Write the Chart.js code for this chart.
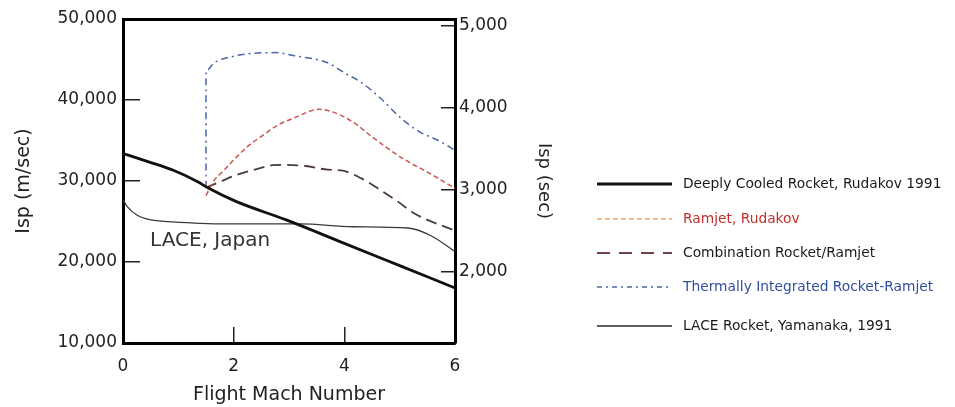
<!DOCTYPE html>
<html>
<head>
<meta charset="utf-8">
<title>Isp vs Flight Mach Number</title>
<script src="https://cdn.jsdelivr.net/npm/chart.js@4.4.1/dist/chart.umd.min.js"></script>
<style>
  html, body { margin: 0; padding: 0; background: #fff; }
  #ispChart { display: block; }
</style>
</head>
<body>
<canvas id="ispChart" width="955" height="407"></canvas>
<script>
// Isp (m/sec) against flight Mach number, as [mach, isp] pairs
const deeplyCooled = [[0, 33400], [0.45, 32400], [0.9, 31350], [1.35, 29900], [1.55, 29100], [2.05, 27450],
  [2.95, 25200], [4, 22300], [5, 19550], [6, 16800]];
const ramjet = [[1.5, 28200], [1.65, 30100], [1.8, 31150], [2, 32600], [2.25, 34250], [2.5, 35500], [2.8, 36900],
  [3.1, 37800], [3.55, 38850], [3.8, 38500], [4.15, 37300], [4.5, 35450], [4.75, 34200], [5.1, 32600],
  [5.5, 31100], [5.9, 29500], [6, 29100]];
const combination = [[1.5, 29200], [1.75, 29900], [2.05, 30750], [2.35, 31350], [2.7, 31950], [2.9, 32000],
  [3.3, 31850], [3.7, 31400], [3.95, 31300], [4.3, 30350], [4.65, 28900], [5, 27300], [5.25, 26050], [6, 23850]];
const thermallyIntegrated = [[1.5, 29200], [1.5, 43600], [1.65, 44600], [2, 45400], [2.25, 45700], [2.75, 45850],
  [3.1, 45450], [3.5, 45000], [3.7, 44600], [4, 43350], [4.3, 42200], [4.65, 40250], [5, 37900], [5.35, 36100],
  [5.7, 35000], [6, 33800]];
const laceRocket = [[0, 27700], [0.07, 26900], [0.25, 25800], [0.5, 25200], [0.7, 25050], [1.15, 24850],
  [1.75, 24700], [3.2, 24700], [4.15, 24350], [5.15, 24200], [5.55, 23300], [6, 21300]];

const seriesLabels = [
  'Deeply Cooled Rocket, Rudakov 1991',
  'Ramjet, Rudakov',
  'Combination Rocket/Ramjet',
  'Thermally Integrated Rocket-Ramjet',
  'LACE Rocket, Yamanaka, 1991'
];

const machTicks = [0, 2, 4, 6];
const ispMsTicks = [10000, 20000, 30000, 40000, 50000];
const ispSecTicks = [2000, 3000, 4000, 5000];
const ispSecRange = [1134, 5085];

const laceNote = { text: 'LACE, Japan', mach: 0.49, isp: 22600 };

const FONT = '"DejaVu Sans", "Liberation Sans", Arial, sans-serif';

const styles = [
  { color: '#111111', dash: [], width: 2.8, legendColor: '#111111', legendDash: [], legendWidth: 3.2, text: '#1a1a1a' },
  { color: '#c8564f', dash: [5, 3], width: 1.5, legendColor: '#eda65c', legendDash: [5, 3], legendWidth: 1.5, text: '#c0302c' },
  { color: '#4c3c3c', dash: [11, 6], width: 1.8, legendColor: '#6b4646', legendDash: [13, 9], legendWidth: 2, text: '#1a1a1a' },
  { color: '#4b64a6', dash: [7, 4, 2, 4], width: 1.5, legendColor: '#4b64a6', legendDash: [5, 4, 2, 4], legendWidth: 1.5, text: '#3150a0' },
  { color: '#3a3a3a', dash: [], width: 1.3, legendColor: '#2a2a2a', legendDash: [], legendWidth: 1.5, text: '#1a1a1a' }
];

const seriesData = [deeplyCooled, ramjet, combination, thermallyIntegrated, laceRocket];

const datasets = seriesData.map((pts, i) => ({
  label: seriesLabels[i],
  data: pts.map(p => ({ x: p[0], y: p[1] })),
  showLine: true,
  borderColor: styles[i].color,
  borderWidth: styles[i].width,
  borderDash: styles[i].dash,
  pointRadius: 0,
  tension: 0.3,
  cubicInterpolationMode: 'monotone',
  fill: false,
  yAxisID: 'y'
}));

// legend drawn to the right of the plot, rows are spaced like the printed key
const sideLegend = {
  id: 'sideLegend',
  afterDraw(chart, args, opts) {
    const ctx = chart.ctx;
    ctx.save();
    ctx.font = opts.font;
    ctx.textBaseline = 'middle';
    ctx.textAlign = 'left';
    chart.data.datasets.forEach((ds, i) => {
      const st = styles[i];
      const y = opts.rows[i];
      ctx.beginPath();
      ctx.setLineDash(st.legendDash);
      ctx.lineWidth = st.legendWidth;
      ctx.strokeStyle = st.legendColor;
      ctx.moveTo(opts.x, y);
      ctx.lineTo(opts.x + opts.lineLength, y);
      ctx.stroke();
      ctx.setLineDash([]);
      ctx.fillStyle = st.text;
      ctx.fillText(ds.label, opts.x + opts.lineLength + opts.gap, y);
    });
    ctx.restore();
  }
};

// text note placed in data coordinates
const noteLabel = {
  id: 'noteLabel',
  afterDatasetsDraw(chart, args, opts) {
    const ctx = chart.ctx;
    const px = chart.scales.x.getPixelForValue(laceNote.mach);
    const py = chart.scales.y.getPixelForValue(laceNote.isp);
    ctx.save();
    ctx.font = opts.font;
    ctx.fillStyle = opts.color;
    ctx.textBaseline = 'middle';
    ctx.textAlign = 'left';
    ctx.fillText(laceNote.text, px, py);
    ctx.restore();
  }
};

const fmt = v => Number(v).toLocaleString('en-US');

// fixed axis widths; drop the label overhang so the plot top/bottom come from layout padding only
const fixWidth = w => s => { s.width = w; s.paddingTop = 0; s.paddingBottom = 0; };

const chart = new Chart(document.getElementById('ispChart'), {
  type: 'scatter',
  data: { datasets },
  plugins: [sideLegend, noteLabel],
  options: {
    responsive: false,
    devicePixelRatio: 1,
    animation: false,
    layout: { padding: { left: 0, top: 19, right: 396, bottom: 0 } },
    scales: {
      x: {
        type: 'linear',
        position: 'bottom',
        min: 0,
        max: 6,
        afterBuildTicks: s => { s.ticks = machTicks.map(v => ({ value: v })); },
        afterFit: s => { s.height = 64; },
        border: { display: true, color: '#000', width: 3 },
        grid: { drawOnChartArea: false, drawTicks: true, tickLength: -16, color: '#222', lineWidth: 1.5 },
        ticks: { padding: 29, color: '#222', font: { family: FONT, size: 17 }, maxRotation: 0 },
        title: { display: true, text: 'Flight Mach Number', color: '#222', padding: { top: 0, bottom: 1 },
          font: { family: FONT, size: 19 } }
      },
      xTop: {
        type: 'linear',
        position: 'top',
        min: 0,
        max: 6,
        afterFit: s => { s.height = 0; },
        border: { display: true, color: '#000', width: 3 },
        grid: { display: false, drawTicks: false },
        ticks: { display: false }
      },
      y: {
        type: 'linear',
        position: 'left',
        min: 10000,
        max: 50000,
        afterBuildTicks: s => { s.ticks = ispMsTicks.map(v => ({ value: v })); },
        afterFit: fixWidth(123),
        border: { display: true, color: '#000', width: 3 },
        grid: { drawOnChartArea: false, drawTicks: true, tickLength: -17, color: '#222', lineWidth: 1.5 },
        ticks: { padding: 23, color: '#222', font: { family: FONT, size: 17 }, callback: fmt },
        title: { display: true, text: 'Isp (m/sec)', color: '#222', padding: { top: 13, bottom: 0 },
          font: { family: FONT, size: 19 } }
      },
      y2: {
        type: 'linear',
        position: 'right',
        min: ispSecRange[0],
        max: ispSecRange[1],
        afterBuildTicks: s => { s.ticks = ispSecTicks.map(v => ({ value: v })); },
        afterFit: fixWidth(104),
        border: { display: true, color: '#000', width: 3 },
        grid: { drawOnChartArea: false, drawTicks: true, tickLength: -14, color: '#222', lineWidth: 1.5 },
        ticks: { padding: 18, color: '#222', font: { family: FONT, size: 17 }, callback: fmt },
        title: { display: true, text: 'Isp (sec)', color: '#222', padding: { top: 5, bottom: 0 },
          font: { family: FONT, size: 18 } }
      }
    },
    plugins: {
      legend: { display: false },
      tooltip: { enabled: false },
      sideLegend: { x: 597, lineLength: 75, gap: 11, rows: [184, 219, 253, 287, 326], font: '13.8px ' + FONT },
      noteLabel: { font: '20px ' + FONT, color: '#333' }
    }
  }
});
</script>
</body>
</html>
